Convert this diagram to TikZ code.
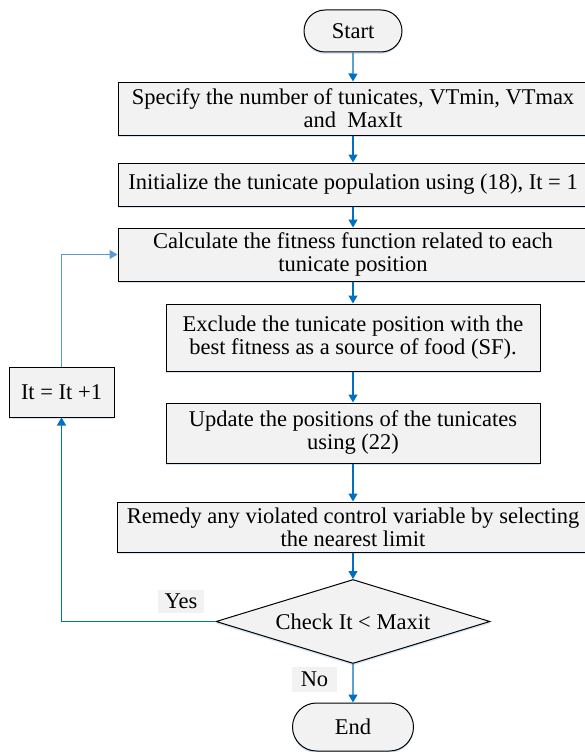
\documentclass[tikz,border=0pt]{standalone}
\usepackage{fontspec}
\setmainfont{Liberation Serif}
\usetikzlibrary{shapes.misc,shapes.geometric,arrows.meta,shadows}

\definecolor{flowblue}{HTML}{0070C0}
\definecolor{loopblue}{HTML}{5B9BD5}
\definecolor{boxgray}{HTML}{F2F2F2}

\tikzset{
  softshadow/.style={drop shadow={shadow xshift=0pt, shadow yshift=-2pt, fill=loopblue, opacity=0.25}},
  procbox/.style={draw=black, line width=1pt, fill=boxgray, align=center, inner sep=2pt, softshadow},
  termbox/.style={rounded rectangle, draw=black, line width=1pt, fill=boxgray, inner sep=2pt, softshadow},
  testbox/.style={diamond, aspect=3.26, draw=black, line width=1pt, fill=boxgray, inner sep=0pt, softshadow},
  lblbox/.style={fill=boxgray, inner sep=0pt},
  flow/.style={flowblue, line width=1.2pt, -{Triangle[width=9pt,length=8pt]}},
}

\begin{document}
\begin{tikzpicture}[x=1pt, y=-1pt, font=\fontsize{22.5}{23}\selectfont]
        \useasboundingbox (0,0) rectangle (585,752);

        \node[termbox, minimum width=102pt, minimum height=42pt] (start) at (353,31) {Start};
        \node[procbox, minimum width=470pt, minimum height=53pt] (spec) at (353,108.5)
            {Specify the number of tunicates, VTmin, VTmax\\and~ MaxIt};
        \node[procbox, minimum width=470pt, minimum height=43pt] (init) at (353,184.5)
            {Initialize the tunicate population using (18), It = 1};
        \node[procbox, minimum width=470pt, minimum height=53pt] (calc) at (353,254.5)
            {Calculate the fitness function related to each\\tunicate position};
        \node[procbox, minimum width=374pt, minimum height=67pt] (excl) at (353,337.5)
            {Exclude the tunicate position with the\\best fitness as a source of food (SF).};
        \node[procbox, minimum width=374pt, minimum height=60pt] (upd) at (353,433)
            {Update the positions of the tunicates\\using (22)};
        \node[procbox, minimum width=472pt, minimum height=50pt] (fix) at (353,527)
            {Remedy any violated control variable by selecting\\the nearest limit};
        \node[testbox, minimum width=274pt, minimum height=84pt] (check) at (353,621.5) {Check It < Maxit};
        \node[termbox, minimum width=125pt, minimum height=48pt] (stop) at (353,727) {End};

        \node[procbox, minimum width=105pt, minimum height=50pt] (inc) at (61.5,392) {It = It +1};

        \node[lblbox, minimum width=46pt, minimum height=23pt] (yes) at (181,601.5) {Yes};
        \node[lblbox, minimum width=45pt, minimum height=25pt] (no) at (314.5,679.5) {No};

        \draw[flow] (start) -- (spec);
        \draw[flow] (spec) -- (init);
        \draw[flow] (init) -- (calc);
        \draw[flow] (calc) -- (excl);
        \draw[flow] (excl) -- (upd);
        \draw[flow] (upd) -- (fix);
        \draw[flow] (fix) -- (check);
        \draw[flow] (check) -- (stop);

        % loop back
        \draw[flow] (check.west) -| (inc.south);
        \draw[flow, loopblue] (inc.north) |- (calc.west);
\end{tikzpicture}
\end{document}
